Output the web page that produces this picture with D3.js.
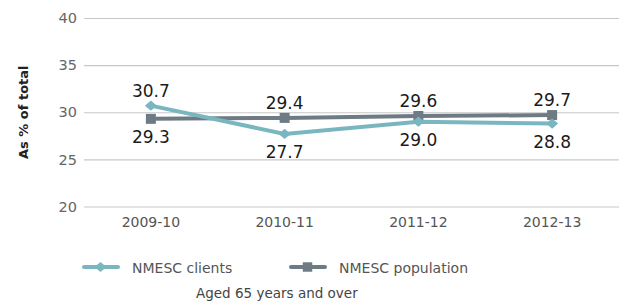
<!DOCTYPE html>
<html>
<head>
<meta charset="utf-8">
<script src="https://cdn.jsdelivr.net/npm/d3@7"></script>
<style>
  body { margin: 0; background: #fff; }
  svg, svg text { font-family: "DejaVu Sans", sans-serif; }
</style>
</head>
<body>
<svg></svg>
<script>
const width = 621;
const height = 302;

const categories = ['2009-10', '2010-11', '2011-12', '2012-13'];
const clients = [30.7, 27.7, 29.0, 28.8];
const population = [29.3, 29.4, 29.6, 29.7];
const yTicks = [20, 25, 30, 35, 40];
// label above (-1) or below (1) each point
const clientsLabelPos = [-1, 1, 1, 1];
const populationLabelPos = [1, -1, -1, -1];

const plotLeft = 84, plotRight = 619, plotTop = 18, plotBottom = 206.5;

const svg = d3.select('svg').attr('width', width).attr('height', height);

const xScale = d3.scaleBand().domain(categories).range([plotLeft, plotRight]);
const yScale = d3.scaleLinear().domain([20, 40]).range([plotBottom, plotTop]);

const xPos = (d) => xScale(d) + xScale.bandwidth() / 2;

// diamond: a rotated, slightly flattened square
const diamondPath = d3.symbol().type(d3.symbolSquare).size(72)();
const diamondTf = ' scale(1,0.85) rotate(45)';

// gridlines + y axis
const yAxis = d3.axisLeft(yScale).tickValues(yTicks).tickSize(-(plotRight - plotLeft)).tickPadding(8);
const gy = svg.append('g').attr('transform', 'translate(' + plotLeft + ',0)').call(yAxis)
              .attr('font-family', null);
gy.select('.domain').remove();
gy.selectAll('line').attr('stroke', '#c8c8c8').attr('stroke-width', 1.2);
gy.selectAll('text').attr('fill', '#666').style('font-size', '14.5px').attr('x', -7);

// x axis labels
const xAxis = d3.axisBottom(xScale).tickSize(0).tickPadding(11);
const gx = svg.append('g').attr('transform', 'translate(0,' + plotBottom + ')').call(xAxis)
              .attr('font-family', null);
gx.select('.domain').remove();
gx.selectAll('text').attr('fill', '#555').style('font-size', '14px');

// axis title
svg.append('text')
   .attr('transform', 'translate(28,' + ((plotTop + plotBottom) / 2) + ') rotate(-90)')
   .attr('text-anchor', 'middle')
   .attr('fill', '#222')
   .style('font-size', '13px')
   .style('font-weight', 'bold')
   .text('As % of total');

const line = d3.line().x((d, i) => xPos(categories[i])).y((d) => yScale(d));

const drawSeries = (values, color, marker, labelPos) => {
    svg.append('path')
       .datum(values)
       .attr('d', line)
       .attr('fill', 'none')
       .attr('stroke', color)
       .attr('stroke-width', 4);

    svg.selectAll(null)
       .data(values)
       .enter()
       .append('path')
       .attr('d', marker === 'square' ? d3.symbol().type(d3.symbolSquare).size(100)() : diamondPath)
       .attr('transform', (d, i) => 'translate(' + xPos(categories[i]) + ',' + yScale(d) + ')' + (marker === 'square' ? '' : diamondTf))
       .attr('fill', color);

    svg.selectAll(null)
       .data(values)
       .enter()
       .append('text')
       .attr('x', (d, i) => xPos(categories[i]))
       .attr('y', (d, i) => yScale(d) + (labelPos[i] < 0 ? -9 : 24))
       .attr('text-anchor', 'middle')
       .attr('fill', '#1a1a1a')
       .style('font-size', '17px')
       .text((d) => d.toFixed(1));
};

drawSeries(population, '#6e7b85', 'square', populationLabelPos);
drawSeries(clients, '#7ab6c0', 'diamond', clientsLabelPos);

// legend
const legend = [
  { name: 'NMESC clients', color: '#7ab6c0', marker: 'diamond', x: 83 },
  { name: 'NMESC population', color: '#6e7b85', marker: 'square', x: 290 }
];
const legendY = 267;
legend.forEach((l) => {
    svg.append('line')
       .attr('x1', l.x + 1).attr('x2', l.x + 35)
       .attr('y1', legendY).attr('y2', legendY)
       .attr('stroke', l.color).attr('stroke-width', 4).attr('stroke-linecap', 'round');
    svg.append('path')
       .attr('d', l.marker === 'square' ? d3.symbol().type(d3.symbolSquare).size(90)() : diamondPath)
       .attr('transform', 'translate(' + (l.x + 17.5) + ',' + legendY + ')' + (l.marker === 'square' ? '' : diamondTf))
       .attr('fill', l.color);
    svg.append('text')
       .attr('x', l.x + 49).attr('y', legendY + 6)
       .attr('fill', '#555')
       .style('font-size', '14px')
       .text(l.name);
});

svg.append('text')
   .attr('x', 196).attr('y', 298)
   .attr('fill', '#444')
   .style('font-size', '13.5px')
   .text('Aged 65 years and over');
</script>
</body>
</html>
